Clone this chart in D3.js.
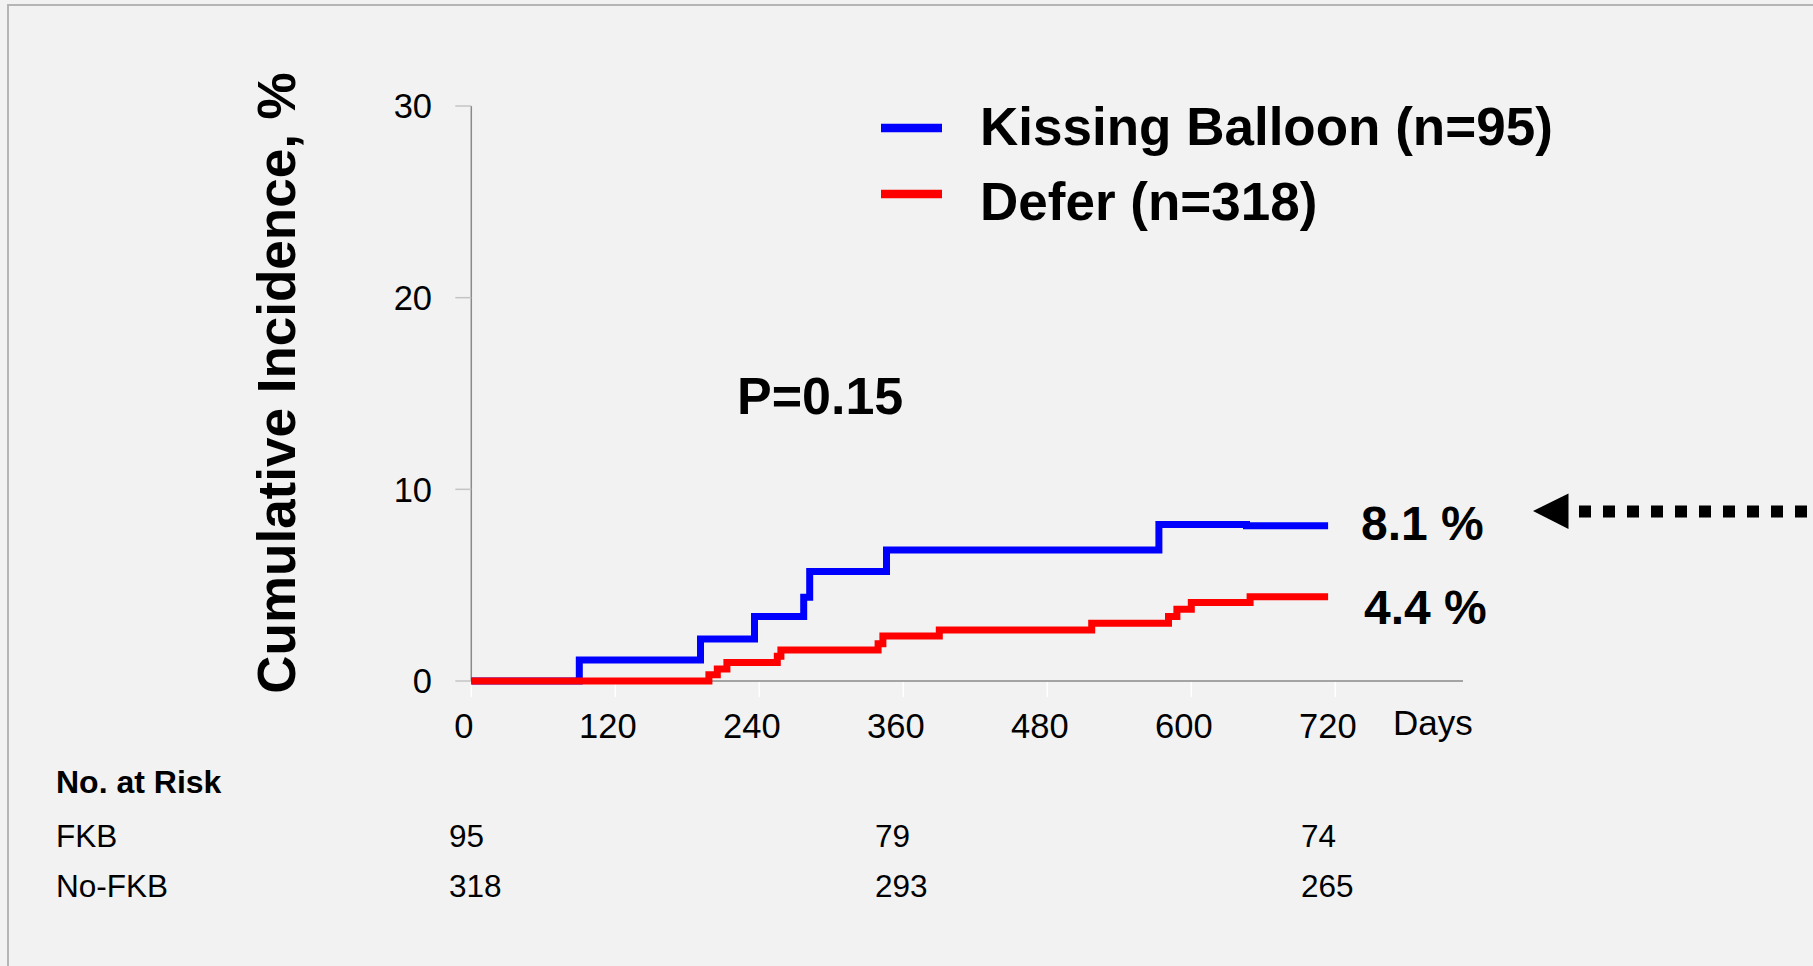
<!DOCTYPE html>
<html>
<head>
<meta charset="utf-8">
<script src="https://cdn.jsdelivr.net/npm/d3@7"></script>
<style>
  html, body { margin: 0; padding: 0; background: #f2f2f2; }
  svg { display: block; font-family: "Liberation Sans", Arial, sans-serif; }
</style>
</head>
<body>
<svg id="chart" width="1813" height="966"></svg>
<script>
// Axis ticks
const xTicks = [0, 120, 240, 360, 480, 600, 720];
const yTicks = [0, 10, 20, 30];

// Cumulative incidence (%) by day, Kissing Balloon group
const fkbDays = [0, 90, 191, 236, 277, 282, 346, 573, 646, 714];
const fkbPct  = [0, 1.1, 2.19, 3.36, 4.37, 5.71, 6.83, 8.17, 8.1, 8.1];

// Cumulative incidence (%) by day, Defer group
const deferDays = [0, 198, 205, 213, 255, 258, 339, 343, 390, 517, 581, 588, 600, 649, 714];
const deferPct  = [0, 0.32, 0.63, 0.96, 1.29, 1.62, 1.95, 2.35, 2.66, 3.01, 3.36, 3.74, 4.09, 4.4, 4.4];

// Series names and final values
const seriesNames = ["Kissing Balloon (n=95)", "Defer (n=318)"];
const finalPct = [8.1, 4.4];

// Number at risk table
const riskDays = [0, 360, 720];
const riskRows = ["FKB", "No-FKB"];
const fkbRisk = [95, 79, 74];
const deferRisk = [318, 293, 265];

const svg = d3.select("#chart");

// outer frame
svg.append("rect")
  .attr("x", 8).attr("y", 5).attr("width", 1900).attr("height", 1000)
  .attr("fill", "#f2f2f2").attr("stroke", "#b5b5b5").attr("stroke-width", 2);

const x = d3.scaleLinear().domain([0, 720]).range([471.3, 1335.3]);
const y = d3.scaleLinear().domain([0, 30]).range([681, 106]);

// x axis line
svg.append("line")
  .attr("x1", x(0)).attr("x2", 1463).attr("y1", y(0)).attr("y2", y(0))
  .attr("stroke", "#8a8a8a").attr("stroke-width", 1.5);

// x ticks (white, below axis)
svg.append("g").selectAll("line").data(xTicks).join("line")
  .attr("x1", d => x(d)).attr("x2", d => x(d))
  .attr("y1", y(0) + 1).attr("y2", y(0) + 16)
  .attr("stroke", "#ffffff").attr("stroke-width", 1.5);

svg.append("g").selectAll("text").data(xTicks).join("text")
  .attr("x", d => x(d) - 7.5).attr("y", 738)
  .attr("text-anchor", "middle").attr("font-size", 34.5).attr("fill", "#000")
  .text(d => d);

svg.append("text")
  .attr("x", 1393).attr("y", 735)
  .attr("font-size", 35).attr("fill", "#000").text("Days");

// y axis line
svg.append("line")
  .attr("x1", x(0)).attr("x2", x(0)).attr("y1", y(30)).attr("y2", y(0))
  .attr("stroke", "#8a8a8a").attr("stroke-width", 1.5);

svg.append("g").selectAll("line").data(yTicks).join("line")
  .attr("x1", x(0) - 16).attr("x2", x(0))
  .attr("y1", d => y(d)).attr("y2", d => y(d))
  .attr("stroke", "#c4c4c4").attr("stroke-width", 1.5);

svg.append("g").selectAll("text").data(yTicks).join("text")
  .attr("x", 432).attr("y", d => y(d) + 12.4)
  .attr("text-anchor", "end").attr("font-size", 34.5).attr("fill", "#000")
  .text(d => d);

// y axis title
svg.append("text")
  .attr("transform", "translate(295,383) rotate(-90)")
  .attr("text-anchor", "middle").attr("font-size", 53).attr("font-weight", "bold")
  .attr("fill", "#000").text("Cumulative Incidence, %");

// step curves
const line = d3.line()
  .x(d => x(d[0])).y(d => y(d[1]))
  .curve(d3.curveStepAfter);

const fkbData = fkbDays.map((d, i) => [d, fkbPct[i]]);
const deferData = deferDays.map((d, i) => [d, deferPct[i]]);

svg.append("path").datum(fkbData)
  .attr("d", line).attr("fill", "none")
  .attr("stroke", "#0000ff").attr("stroke-width", 7);

svg.append("path").datum(deferData)
  .attr("d", line).attr("fill", "none")
  .attr("stroke", "#ff0000").attr("stroke-width", 7);

// final value labels
const finalOffsets = [14, 27];
svg.append("g").selectAll("text").data(finalPct).join("text")
  .attr("x", (d, i) => i === 0 ? 1361 : 1364)
  .attr("y", (d, i) => y(d) + finalOffsets[i])
  .attr("font-size", 48).attr("font-weight", "bold").attr("fill", "#000")
  .text(d => d.toFixed(1) + " %");

// P value
svg.append("text")
  .attr("x", 737).attr("y", 414)
  .attr("font-size", 52).attr("font-weight", "bold").attr("fill", "#000")
  .text("P=0.15");

// legend
const legendColors = ["#0000ff", "#ff0000"];
const legendBase = [145, 220];
const legendLineY = [128, 194];
const lg = svg.append("g");
seriesNames.forEach((name, i) => {
  lg.append("line")
    .attr("x1", 881).attr("x2", 942)
    .attr("y1", legendLineY[i]).attr("y2", legendLineY[i])
    .attr("stroke", legendColors[i]).attr("stroke-width", 8.5);
  lg.append("text")
    .attr("x", 980).attr("y", legendBase[i])
    .attr("font-size", 53).attr("font-weight", "bold").attr("fill", "#000")
    .text(name);
});

// dotted arrow pointing at the final value
svg.append("path")
  .attr("d", "M1533,511 L1568.5,493.5 L1568.5,529 Z")
  .attr("fill", "#000");
svg.append("line")
  .attr("x1", 1579).attr("x2", 1813).attr("y1", 511.5).attr("y2", 511.5)
  .attr("stroke", "#000").attr("stroke-width", 12)
  .attr("stroke-dasharray", "12,12");

// number at risk
svg.append("text")
  .attr("x", 56).attr("y", 793)
  .attr("font-size", 32).attr("font-weight", "bold").attr("fill", "#000")
  .text("No. at Risk");

const riskX = d3.scaleLinear().domain([0, 720]).range([449, 1301]);
const riskValues = [fkbRisk, deferRisk];
const rowBase = [847, 897];
riskRows.forEach((row, r) => {
  svg.append("text")
    .attr("x", 56).attr("y", rowBase[r])
    .attr("font-size", 31.5).attr("fill", "#000").text(row);
  svg.append("g").selectAll("text").data(riskValues[r]).join("text")
    .attr("x", (d, i) => riskX(riskDays[i])).attr("y", rowBase[r])
    .attr("font-size", 31.5).attr("fill", "#000")
    .text(d => d);
});
</script>
</body>
</html>
